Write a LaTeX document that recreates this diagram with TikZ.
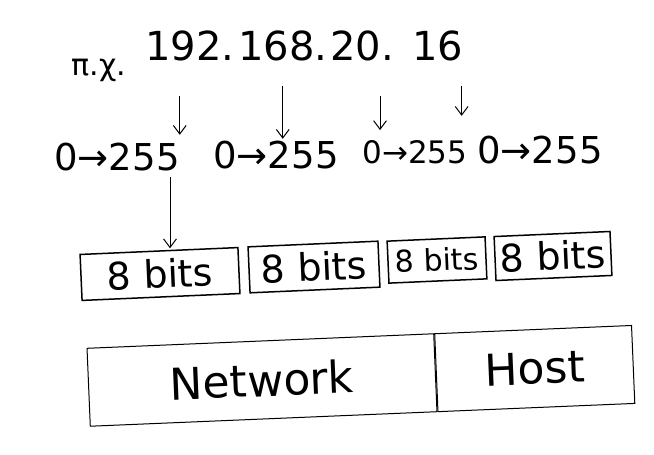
\documentclass[tikz,border=0pt]{standalone}
\usepackage{fontspec}
\setmainfont{DejaVu Sans}
\usepackage{tikz}
\usetikzlibrary{arrows.meta,positioning}

\begin{document}
\begin{tikzpicture}[x=1pt, y=-1pt,
      octet/.style={font=\fontsize{40}{44}\selectfont, inner sep=0pt, anchor=base west},
      span/.style={font=\fontsize{37}{40}\selectfont, inner sep=0pt},
      bits/.style={draw, line width=1.5pt, font=\fontsize{38}{40}\selectfont, inner sep=0pt, minimum height=46pt, rotate=2.5},
      part/.style={draw, line width=1pt, minimum height=78pt, font=\fontsize{44}{46}\selectfont, inner sep=0pt, rotate=2.4},
      ar/.style={-{Straight Barb[length=3mm, width=4.5mm]}, line width=1pt}]
    \useasboundingbox (0,0) rectangle (654,455);
    % address
    \node[font=\fontsize{30}{32}\selectfont, inner sep=0pt] (eg) at (99,70) {π.χ.};
    \node[octet] (o1) at (145,60) {192.};
    \node[octet] (o2) at (238,60) {168.};
    \node[octet] (o3) at (330,60) {20.};
    \node[octet] (o4) at (412,60) {16};
    % ranges
    \node[span] (r1) at (117,157) {0→255};
    \node[span] (r2) at (276,155) {0→255};
    \node[span, font=\fontsize{31}{32}\selectfont] (r3) at (415,152) {0→255};
    \node[span] (r4) at (540,150) {0→255};
    \draw[ar] ([xshift=-10pt, yshift=-35pt]o1.south) -- ([xshift=-10pt, yshift=8pt]o1.south |- r1.north);
    \draw[ar] ([yshift=-25pt]o2.south) -- ([yshift=2pt]o2.south |- r2.north);
    \draw[ar] ([xshift=18pt, yshift=-35pt]o3.south) -- ([xshift=18pt, yshift=10pt]o3.south |- r3.north);
    \draw[ar] ([xshift=24pt, yshift=-25pt]o4.south) -- ([xshift=24pt, yshift=20pt]o4.south |- r4.north);
    % bytes
    \node[bits, minimum width=158pt] (b1) at (160,274) {8 bits};
    \node[bits, minimum width=130pt] (b2) at (314,267) {8 bits};
    \node[bits, minimum width=98pt, minimum height=42pt, font=\fontsize{30}{32}\selectfont] (b3) at (437,260) {8 bits};
    \node[bits, minimum width=116pt, minimum height=44pt] (b4) at (553,256) {8 bits};
    \draw[ar] ([xshift=53pt, yshift=-6pt]r1.south) -- ([xshift=53pt, yshift=2pt]r1.south |- b1.north);
    % network / host
    \node[part, minimum width=347pt] (net) at (262,380) {Network};
    \node[part, minimum width=197pt, anchor=west] (host) at (net.east) {Host};
  \end{tikzpicture}
\end{document}
